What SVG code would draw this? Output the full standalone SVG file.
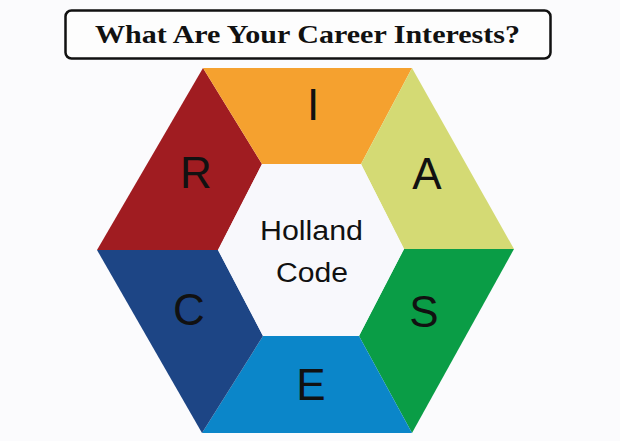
<svg xmlns="http://www.w3.org/2000/svg" width="620" height="441" viewBox="0 0 620 441">
<style>
.t{font-family:"Liberation Serif","Times New Roman",serif;font-weight:bold;font-size:26px;fill:#111}
.l{font-family:"Liberation Sans",Arial,sans-serif;font-size:44px;fill:#111;text-anchor:middle}
.c{font-family:"Liberation Sans",Arial,sans-serif;font-size:27px;fill:#111;text-anchor:middle}
</style>
<rect width="620" height="441" fill="#fbfbfd"/>
<g id="title">
<rect x="65.5" y="10.5" width="485" height="48" rx="6" fill="#fdfdfd" stroke="#111" stroke-width="2.5"/>
<text class="t" x="95" y="43" textLength="425" lengthAdjust="spacingAndGlyphs">What Are Your Career Interests?</text>
</g>
<g id="R">
<polygon points="203,68 262,164 218,250 97,250" fill="#a01c21"/>
<text class="l" x="196" y="188">R</text>
</g>
<g id="I">
<polygon points="203,68 412,68 361,164 262,164" fill="#f5a12f"/>
<text class="l" x="313" y="120">I</text>
</g>
<g id="A">
<polygon points="412,68 514,249 404,249 361,164" fill="#d4da74"/>
<text class="l" x="427" y="189">A</text>
</g>
<g id="S">
<polygon points="514,249 412,433 359,336 404,249" fill="#0a9d46"/>
<text class="l" x="424" y="327">S</text>
</g>
<g id="E">
<polygon points="412,433 202,433 263,336 359,336" fill="#0b86c9"/>
<text class="l" x="311" y="400">E</text>
</g>
<g id="C">
<polygon points="202,433 97,250 218,250 263,336" fill="#1d4585"/>
<text class="l" x="189" y="325">C</text>
</g>
<g id="center">
<polygon points="262,164 361,164 404,249 359,336 263,336 218,250" fill="#f8f8fc"/>
<text class="c" x="311.5" y="240" textLength="103" lengthAdjust="spacingAndGlyphs">Holland</text>
<text class="c" x="312" y="282" textLength="72" lengthAdjust="spacingAndGlyphs">Code</text>
</g>
</svg>
